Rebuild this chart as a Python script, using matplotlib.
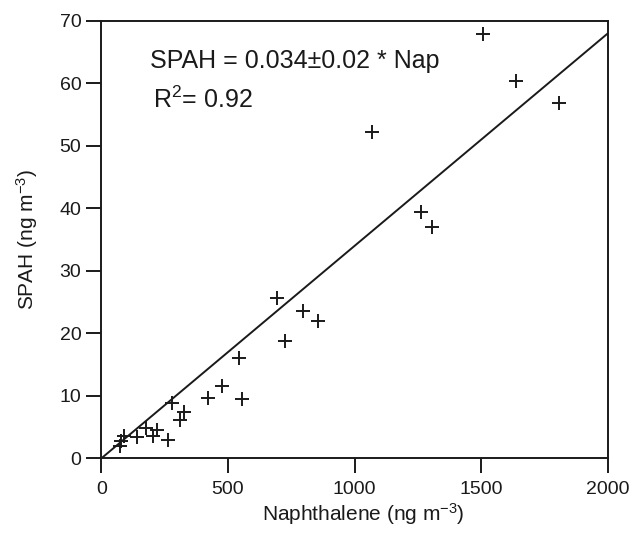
import numpy as np
import matplotlib
matplotlib.use("Agg")
from matplotlib import pyplot as plt

plt.rcParams['font.family'] = ['Liberation Sans', 'DejaVu Sans']
plt.rcParams['mathtext.fontset'] = 'custom'
plt.rcParams['mathtext.rm'] = 'Liberation Sans'
plt.rcParams['mathtext.it'] = 'Liberation Sans:italic'

# naphthalene vs sum of PAH, ng m-3
nap = [75, 79, 90, 139, 178, 202, 218, 262, 278, 311, 327, 420, 477, 545, 555,
       692, 727, 796, 857, 1067, 1261, 1304, 1506, 1636, 1807]
spah = [1.9, 2.8, 3.6, 3.4, 4.9, 3.6, 4.5, 3.0, 8.8, 6.1, 7.4, 9.6, 11.6, 16.0, 9.5,
        25.7, 18.8, 23.5, 22.0, 52.3, 39.5, 37.1, 67.9, 60.4, 56.8]
slope = 0.034
fit_x = [0, 2000]

fig = plt.figure(figsize=(6.34, 5.34), dpi=100)
ax = fig.add_axes([0.160, 0.1418, 0.7985, 0.8189])

ax.plot(nap, spah, '+', color='#1a1a1a', markersize=10, markeredgewidth=1.4)
ax.plot(fit_x, [slope * v for v in fit_x], color='#1a1a1a', lw=1.4)

ax.set_xlim(0, 2000)
ax.set_ylim(0, 70)
ax.set_xticks([0, 500, 1000, 1500, 2000])
ax.set_yticks(range(0, 71, 10))
ax.tick_params(direction='out', length=10.5, width=1.4, labelsize=14,
               colors='#1a1a1a')
ax.tick_params(axis='x', pad=6)
ax.tick_params(axis='y', pad=4)
for s in ax.spines.values():
    s.set_linewidth(1.4)
    s.set_color('#1a1a1a')

ax.set_xlabel('Naphthalene (ng m$^{-3}$)', fontsize=15, color='#1a1a1a', labelpad=3)
ax.xaxis.set_label_coords(0.518, -0.098)
ax.set_ylabel('SPAH (ng m$^{-3}$)', fontsize=15, color='#1a1a1a', labelpad=14)

ax.text(0.095, 0.892, 'SPAH = 0.034\u00b10.02 * Nap', transform=ax.transAxes,
        fontsize=18, color='#1a1a1a', va='baseline')
ax.text(0.101, 0.80, 'R$^{2}$= 0.92', transform=ax.transAxes,
        fontsize=18, color='#1a1a1a', va='baseline')

fig.savefig('out.png', dpi=100)
